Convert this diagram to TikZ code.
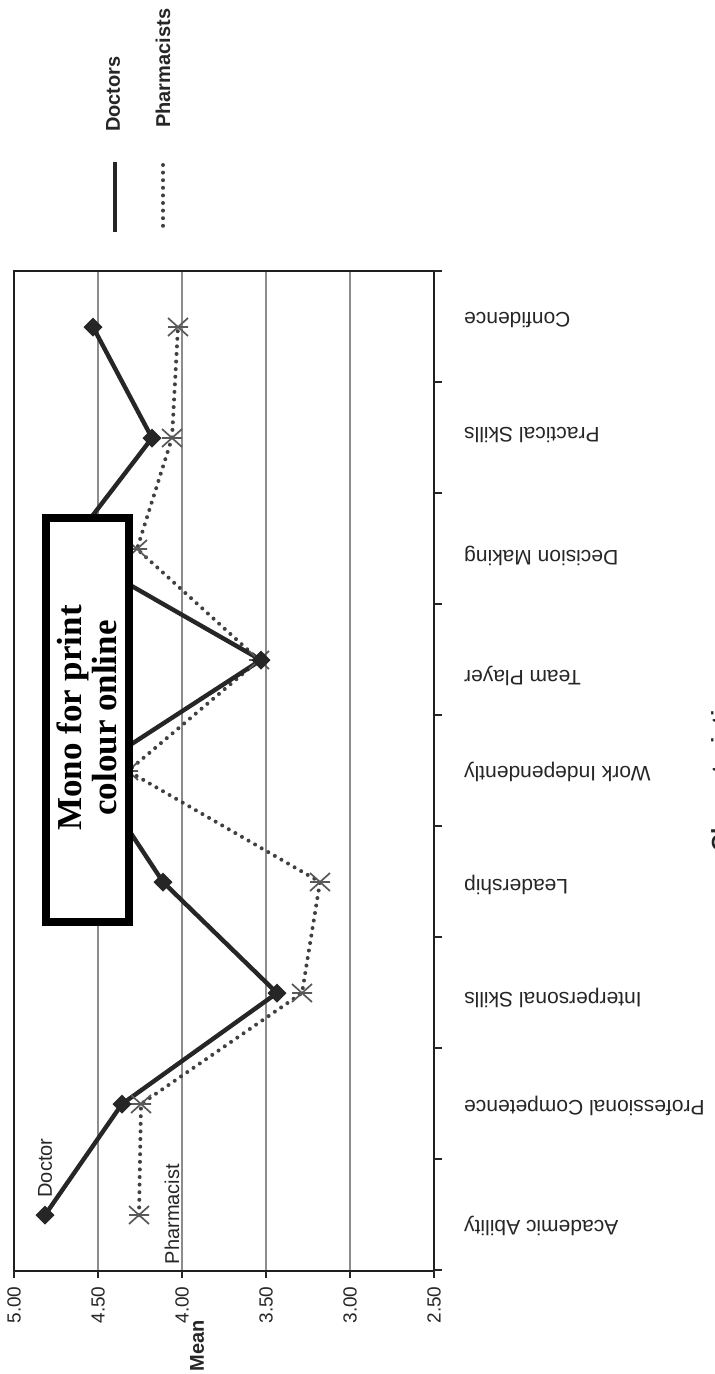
\documentclass[tikz,border=0pt]{standalone}
\usepackage{fontspec}
\setmainfont{Liberation Sans}
\newfontfamily\boxserif{Liberation Serif}
\begin{document}
\begin{tikzpicture}[x=1pt,y=-1pt,
  frame/.style={draw=black!88, line width=2.2pt},
  gridln/.style={draw=black!45, line width=1.4pt},
  tickln/.style={draw=black!85, line width=1.6pt},
  docline/.style={draw=black!85, line width=4.4pt, line join=round},
  pharmline/.style={draw=black!75, line width=4pt, line cap=round, dash pattern=on 0pt off 7.6pt},
  catlabel/.style={rotate=180, anchor=mid east, inner sep=0pt, text=black!85, font=\fontsize{21}{25}\selectfont},
  ticklabel/.style={rotate=90, inner sep=0pt, text=black!85, font=\fontsize{19}{23}\selectfont},
  serlabel/.style={rotate=90, inner sep=0pt, text=black!85, font=\fontsize{20}{24}\selectfont},
  leglabel/.style={rotate=90, anchor=west, inner sep=0pt, text=black!85, font=\bfseries\fontsize{20}{24}\selectfont},
  docmark/.pic={\fill[black!85] (-9.5,0)--(0,-9.5)--(9.5,0)--(0,9.5)--cycle;},
  pharmmark/.pic={\draw[black!65, line width=1.7pt] (-10,-9)--(10,9) (-10,9)--(10,-9) (-10,0)--(10,0);}
]
\useasboundingbox (0,0) rectangle (715,1374);

% grid and frame
\foreach \gx in {98,182,266,350} \draw[gridln] (\gx,271)--(\gx,1271);
\draw[frame] (14,271) rectangle (434,1271);
\foreach \ty in {271,382,493,604,715,826,937,1048,1159,1270} \draw[tickln] (434,\ty)--(442,\ty);
\foreach \tx in {14,98,182,266,350,434} \draw[tickln] (\tx,1271)--(\tx,1278);

% value labels
\node[ticklabel] (v500) at (14,1305) {5.00};
\node[ticklabel] (v450) at (98,1305) {4.50};
\node[ticklabel] (v400) at (182,1305) {4.00};
\node[ticklabel] (v350) at (266,1305) {3.50};
\node[ticklabel] (v300) at (350,1305) {3.00};
\node[ticklabel] (v250) at (434,1305) {2.50};
\node[rotate=90, inner sep=0pt, text=black!85, font=\bfseries\fontsize{20}{24}\selectfont] (mean) at (197,1346) {Mean};

% category labels
\node[catlabel] (c9) at (464,315) {Confidence};
\node[catlabel] (c8) at (464,430) {Practical Skills};
\node[catlabel] (c7) at (464,553) {Decision Making};
\node[catlabel] (c6) at (464,673) {Team Player};
\node[catlabel] (c5) at (464,769) {Work Independently};
\node[catlabel] (c4) at (464,882) {Leadership};
\node[catlabel] (c3) at (464,995) {Interpersonal Skills};
\node[catlabel] (c2) at (464,1103) {Professional Competence};
\node[catlabel] (c1) at (464,1223) {Academic Ability};
\node[rotate=90, anchor=north, inner sep=0pt, text=black!85, font=\bfseries\fontsize{23}{27}\selectfont] (xtitle) at (711,768) {Characteristics};

% data points
\coordinate (d1) at (45,1215);  \coordinate (p1) at (139,1215);
\coordinate (d2) at (122,1104); \coordinate (p2) at (141,1104);
\coordinate (d3) at (277,993);  \coordinate (p3) at (302,993);
\coordinate (d4) at (163,882);  \coordinate (p4) at (320,882);
\coordinate (d5) at (90,771);   \coordinate (p5) at (128,771);
\coordinate (d6) at (261,660);  \coordinate (p6) at (259,660);
\coordinate (d7) at (67,549);   \coordinate (p7) at (137,549);
\coordinate (d8) at (152,438);  \coordinate (p8) at (172,438);
\coordinate (d9) at (93,327);   \coordinate (p9) at (178,327);

\draw[pharmline] (p1)--(p2)--(p3)--(p4)--(p5)--(p6)--(p7)--(p8)--(p9);
\draw[docline] (d1)--(d2)--(d3)--(d4)--(d5)--(d6)--(d7)--(d8)--(d9);
\foreach \i in {1,...,9} \pic at (p\i) {pharmmark};
\foreach \i in {1,...,9} \pic at (d\i) {docmark};

% series labels
\node[serlabel] (ldoc) at (45,1168) {Doctor};
\node[serlabel] (lpharm) at (172,1214) {Pharmacist};

% legend
\coordinate (ls1) at (115,162); \coordinate (ls2) at (115,232);
\coordinate (lp1) at (163,165); \coordinate (lp2) at (163,232);
\draw[docline] (ls1)--(ls2);
\draw[pharmline] (lp1)--(lp2);
\node[leglabel] (legd) at (113,132) {Doctors};
\node[leglabel] (legp) at (163,128) {Pharmacists};

% overlay box
\draw[line width=8pt, fill=white] (46,518) rectangle (129,922);
\node[rotate=90, align=center, inner sep=0pt, font=\boxserif\bfseries\fontsize{35}{35}\selectfont] (note) at (87,718) {Mono for print\\colour online};
\end{tikzpicture}
\end{document}
